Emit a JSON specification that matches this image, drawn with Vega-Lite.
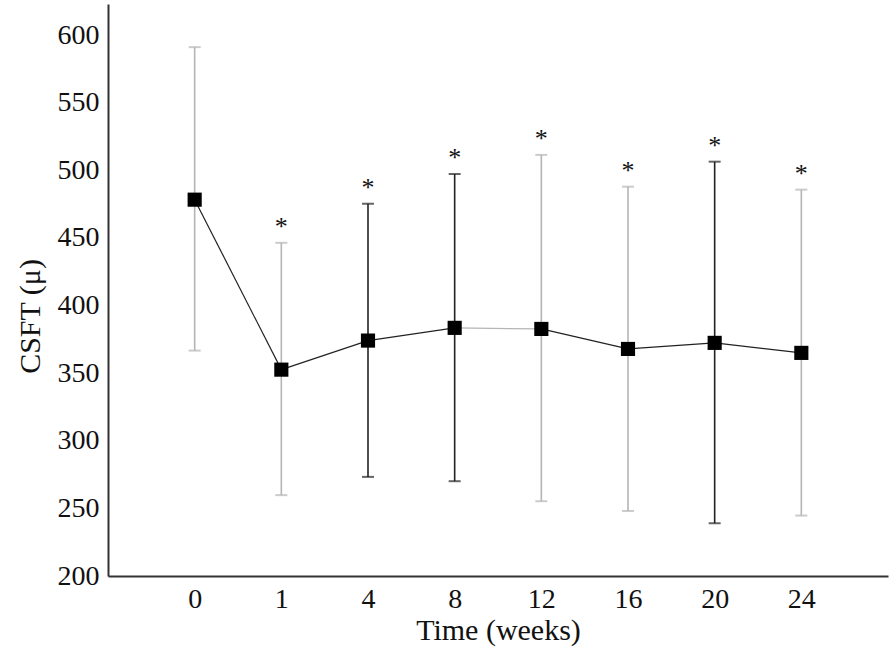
{
  "$schema": "https://vega.github.io/schema/vega-lite/v6.json",
  "width": 780,
  "height": 572,
  "autosize": "none",
  "padding": {"left": 108, "top": 4, "right": 8, "bottom": 86},
  "background": "white",
  "config": {
    "view": {"stroke": null},
    "font": "Liberation Serif",
    "axis": {"grid": false, "ticks": false, "domainColor": "#333333", "domainWidth": 2, "labelColor": "#111111", "titleColor": "#111111", "labelFont": "Liberation Serif", "titleFont": "Liberation Serif", "labelFontSize": 28, "titleFontSize": 30, "titleFontWeight": "normal"}
  },
  "datasets": {
    "points": [
      {"week": "0", "mean": 478.3, "lower": 366.7, "upper": 591.1, "bar": "grey", "sig": ""},
      {"week": "1", "mean": 352.6, "lower": 259.8, "upper": 446.4, "bar": "grey", "sig": "*"},
      {"week": "4", "mean": 374.1, "lower": 273.3, "upper": 475.3, "bar": "black", "sig": "*"},
      {"week": "8", "mean": 383.5, "lower": 270.1, "upper": 497.3, "bar": "black", "sig": "*"},
      {"week": "12", "mean": 382.7, "lower": 255.3, "upper": 511.4, "bar": "grey", "sig": "*"},
      {"week": "16", "mean": 367.9, "lower": 248.1, "upper": 487.9, "bar": "grey", "sig": "*"},
      {"week": "20", "mean": 372.4, "lower": 239.0, "upper": 506.4, "bar": "black", "sig": "*"},
      {"week": "24", "mean": 365.0, "lower": 244.7, "upper": 485.7, "bar": "grey", "sig": "*"}
    ],
    "segments": [
      {"from": "0", "to": "1", "y1": 478.3, "y2": 352.6, "seg": "black"},
      {"from": "1", "to": "4", "y1": 352.6, "y2": 374.1, "seg": "black"},
      {"from": "4", "to": "8", "y1": 374.1, "y2": 383.5, "seg": "black"},
      {"from": "8", "to": "12", "y1": 383.5, "y2": 382.7, "seg": "grey"},
      {"from": "12", "to": "16", "y1": 382.7, "y2": 367.9, "seg": "black"},
      {"from": "16", "to": "20", "y1": 367.9, "y2": 372.4, "seg": "black"},
      {"from": "20", "to": "24", "y1": 372.4, "y2": 365.0, "seg": "black"}
    ]
  },
  "layer": [
    {
      "data": {"name": "points"},
      "mark": {"type": "rule", "strokeWidth": 1.6},
      "encoding": {
        "x": {"field": "week", "type": "ordinal", "sort": null, "scale": {"type": "point", "padding": 1}, "axis": {"title": "Time (weeks)", "labelAngle": 0, "labelPadding": 9, "titlePadding": 2}},
        "y": {"field": "lower", "type": "quantitative", "scale": {"domain": [200, 623], "nice": false, "zero": false}, "axis": {"title": "CSFT (μ)", "values": [200, 250, 300, 350, 400, 450, 500, 550, 600], "labelPadding": 9, "titlePadding": 12, "titleY": 312}},
        "y2": {"field": "upper"},
        "color": {"field": "bar", "type": "nominal", "scale": {"domain": ["grey", "black"], "range": ["#b5b5b5", "#222222"]}, "legend": null}
      }
    },
    {
      "data": {"name": "points"},
      "mark": {"type": "tick", "orient": "horizontal", "size": 12, "thickness": 2},
      "encoding": {
        "x": {"field": "week", "type": "ordinal", "sort": null},
        "y": {"field": "upper", "type": "quantitative"},
        "color": {"field": "bar", "type": "nominal", "legend": null}
      }
    },
    {
      "data": {"name": "points"},
      "mark": {"type": "tick", "orient": "horizontal", "size": 12, "thickness": 2},
      "encoding": {
        "x": {"field": "week", "type": "ordinal", "sort": null},
        "y": {"field": "lower", "type": "quantitative"},
        "color": {"field": "bar", "type": "nominal", "legend": null}
      }
    },
    {
      "data": {"name": "segments"},
      "mark": {"type": "rule", "strokeWidth": 1.2},
      "encoding": {
        "x": {"field": "from", "type": "ordinal", "sort": null},
        "x2": {"field": "to"},
        "y": {"field": "y1", "type": "quantitative"},
        "y2": {"field": "y2"},
        "color": {"field": "seg", "type": "nominal", "legend": null}
      }
    },
    {
      "data": {"name": "points"},
      "mark": {"type": "point", "shape": "square", "filled": true, "size": 200, "color": "#000000", "opacity": 1},
      "encoding": {
        "x": {"field": "week", "type": "ordinal", "sort": null},
        "y": {"field": "mean", "type": "quantitative"}
      }
    },
    {
      "data": {"name": "points"},
      "mark": {"type": "text", "fontSize": 26, "baseline": "alphabetic", "dy": -8, "color": "#111111", "font": "Liberation Serif"},
      "encoding": {
        "x": {"field": "week", "type": "ordinal", "sort": null},
        "y": {"field": "upper", "type": "quantitative"},
        "text": {"field": "sig"}
      }
    }
  ]
}
